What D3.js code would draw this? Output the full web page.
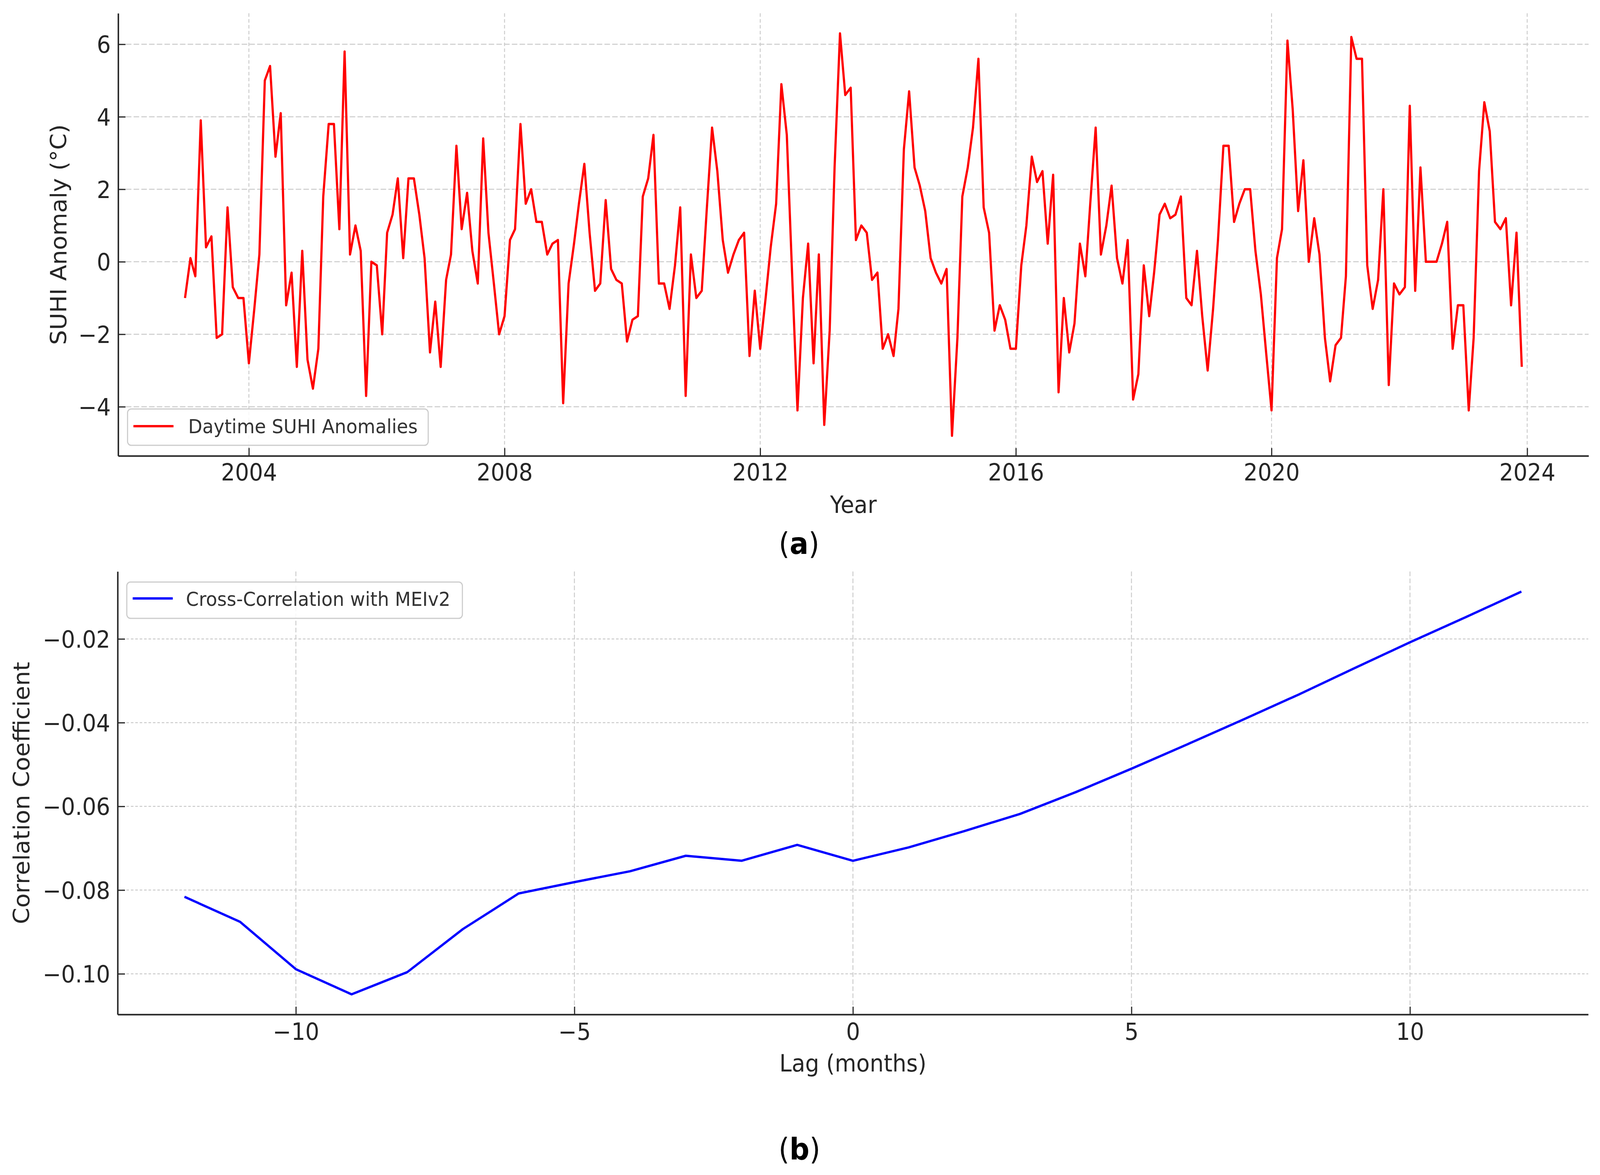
<!DOCTYPE html>
<html>
<head>
<meta charset="utf-8">
<script src="https://cdn.jsdelivr.net/npm/d3@7"></script>
<style>
  html, body { margin: 0; padding: 0; background: #ffffff; width: 100%; height: 100%; overflow: hidden; }
  svg { display: block; width: 100vw; height: 100vh; }
  text { font-family: "DejaVu Sans", "Noto Sans", sans-serif; }
</style>
</head>
<body>
<script>
// ---------------- DATA ----------------
const startYear = 2003; // monthly series, Jan 2003 .. Dec 2023
const suhiAnomaly = [
  // 2003
  -1.0, 0.1, -0.4, 3.9, 0.4, 0.7, -2.1, -2.0, 1.5, -0.7, -1.0, -1.0,
  // 2004
  -2.8, -1.3, 0.2, 5.0, 5.4, 2.9, 4.1, -1.2, -0.3, -2.9, 0.3, -2.7,
  // 2005
  -3.5, -2.4, 1.8, 3.8, 3.8, 0.9, 5.8, 0.2, 1.0, 0.3, -3.7, 0.0,
  // 2006
  -0.1, -2.0, 0.8, 1.3, 2.3, 0.1, 2.3, 2.3, 1.3, 0.1, -2.5, -1.1,
  // 2007
  -2.9, -0.5, 0.2, 3.2, 0.9, 1.9, 0.3, -0.6, 3.4, 0.8, -0.6, -2.0,
  // 2008
  -1.5, 0.6, 0.9, 3.8, 1.6, 2.0, 1.1, 1.1, 0.2, 0.5, 0.6, -3.9,
  // 2009
  -0.6, 0.5, 1.6, 2.7, 0.8, -0.8, -0.6, 1.7, -0.2, -0.5, -0.6, -2.2,
  // 2010
  -1.6, -1.5, 1.8, 2.3, 3.5, -0.6, -0.6, -1.3, -0.1, 1.5, -3.7, 0.2,
  // 2011
  -1.0, -0.8, 1.4, 3.7, 2.5, 0.6, -0.3, 0.2, 0.6, 0.8, -2.6, -0.8,
  // 2012
  -2.4, -1.0, 0.4, 1.6, 4.9, 3.5, -0.3, -4.1, -1.0, 0.5, -2.8, 0.2,
  // 2013
  -4.5, -1.9, 2.6, 6.3, 4.6, 4.8, 0.6, 1.0, 0.8, -0.5, -0.3, -2.4,
  // 2014
  -2.0, -2.6, -1.3, 3.1, 4.7, 2.6, 2.1, 1.4, 0.1, -0.3, -0.6, -0.2,
  // 2015
  -4.8, -2.1, 1.8, 2.6, 3.7, 5.6, 1.5, 0.8, -1.9, -1.2, -1.6, -2.4,
  // 2016
  -2.4, -0.1, 1.0, 2.9, 2.2, 2.5, 0.5, 2.4, -3.6, -1.0, -2.5, -1.7,
  // 2017
  0.5, -0.4, 1.6, 3.7, 0.2, 1.0, 2.1, 0.1, -0.6, 0.6, -3.8, -3.1,
  // 2018
  -0.1, -1.5, -0.3, 1.3, 1.6, 1.2, 1.3, 1.8, -1.0, -1.2, 0.3, -1.5,
  // 2019
  -3.0, -1.3, 0.6, 3.2, 3.2, 1.1, 1.6, 2.0, 2.0, 0.3, -0.9, -2.5,
  // 2020
  -4.1, 0.1, 0.9, 6.1, 4.2, 1.4, 2.8, 0.0, 1.2, 0.2, -2.1, -3.3,
  // 2021
  -2.3, -2.1, -0.4, 6.2, 5.6, 5.6, -0.1, -1.3, -0.5, 2.0, -3.4, -0.6,
  // 2022
  -0.9, -0.7, 4.3, -0.8, 2.6, 0.0, 0.0, 0.0, 0.5, 1.1, -2.4, -1.2,
  // 2023
  -1.2, -4.1, -2.1, 2.5, 4.4, 3.6, 1.1, 0.9, 1.2, -1.2, 0.8, -2.9
];
const lags = [-12, -11, -10, -9, -8, -7, -6, -5, -4, -3, -2, -1, 0, 1, 2, 3, 4, 5, 6, 7, 8, 9, 10, 11, 12];
const crossCorr = [-0.0816, -0.0876, -0.0989, -0.1049, -0.0996, -0.0893, -0.0808, -0.0781, -0.0755, -0.0718, -0.0730, -0.0692,
                   -0.0730, -0.0698, -0.0659, -0.0618, -0.0566, -0.0510, -0.0452, -0.0393, -0.0333, -0.0270, -0.0208, -0.0148, -0.0087];
const yearTicks = [2004, 2008, 2012, 2016, 2020, 2024];
const suhiTicks = [-4, -2, 0, 2, 4, 6];
const lagTicks = [-10, -5, 0, 5, 10];
const corrTicks = [-0.10, -0.08, -0.06, -0.04, -0.02];
const labels = {
  topY: "SUHI Anomaly (°C)", topX: "Year", topLegend: "Daytime SUHI Anomalies",
  botY: "Correlation Coefficient", botX: "Lag (months)", botLegend: "Cross-Correlation with MEIv2"
};

// ---------------- SETUP ----------------
const W = 4353, H = 3008;
const svg = d3.select("body").append("svg")
  .attr("viewBox", `0 0 ${W} ${H}`).attr("preserveAspectRatio", "none");
svg.append("rect").attr("width", W).attr("height", H).attr("fill", "#ffffff");

const TICK_FS = 60, LABEL_FS = 60, LEG_FS = 50;
const TEXT_COL = "#262626";
const SPINE_COL = "#262626";

function padExtent(lo, hi, f = 0.05) { const d = (hi - lo) * f; return [lo - d, hi + d]; }

// ---------------- PANEL A ----------------
const A = { left: 321.5, right: 4322, top: 34, bottom: 1167 };
const suhiPts = suhiAnomaly.map((v, i) => ({ date: new Date(Date.UTC(startYear, i, 1)), v }));
const tExt = d3.extent(suhiPts, d => d.date.getTime());
const tPad = padExtent(tExt[0], tExt[1]);
const xA = d3.scaleUtc().domain([new Date(tPad[0]), new Date(tPad[1])]).range([A.left, A.right]);
const vExt = d3.extent(suhiAnomaly);
const yA = d3.scaleLinear().domain(padExtent(vExt[0], vExt[1])).range([A.bottom, A.top]);

const gA = svg.append("g");
const yearDates = yearTicks.map(y => new Date(Date.UTC(y, 0, 1)));
gA.append("g").selectAll("line").data(suhiTicks).join("line")
  .attr("x1", A.left).attr("x2", A.right)
  .attr("y1", d => yA(d)).attr("y2", d => yA(d))
  .attr("stroke", "#cbcbcb").attr("stroke-width", 2.5).attr("stroke-dasharray", "15,6");
gA.append("g").selectAll("line").data(yearDates).join("line")
  .attr("x1", d => xA(d)).attr("x2", d => xA(d))
  .attr("y1", A.top).attr("y2", A.bottom)
  .attr("stroke", "#cbcbcb").attr("stroke-width", 2.5).attr("stroke-dasharray", "9,6");

gA.append("path").datum(suhiPts)
  .attr("fill", "none").attr("stroke", "#ff0000").attr("stroke-width", 6)
  .attr("stroke-linejoin", "round").attr("stroke-linecap", "butt")
  .attr("d", d3.line().x(d => xA(d.date)).y(d => yA(d.v)));

function styleAxis(g) {
  g.selectAll(".domain").attr("stroke", SPINE_COL).attr("stroke-width", 4);
  g.selectAll(".tick line").attr("stroke", SPINE_COL).attr("stroke-width", 3);
  g.selectAll(".tick text").attr("fill", TEXT_COL).attr("font-size", TICK_FS)
    .attr("font-family", "DejaVu Sans");
}
const axA_x = gA.append("g").attr("transform", `translate(0,${A.bottom})`)
  .call(d3.axisBottom(xA).tickValues(yearDates).tickFormat(d3.utcFormat("%Y"))
    .tickSizeInner(-20).tickSizeOuter(0).tickPadding(20));
styleAxis(axA_x);
const axA_y = gA.append("g").attr("transform", `translate(${A.left},0)`)
  .call(d3.axisLeft(yA).tickValues(suhiTicks).tickFormat(d3.format("d"))
    .tickSizeInner(-20).tickSizeOuter(0).tickPadding(20));
styleAxis(axA_y);
axA_y.selectAll(".tick text").attr("dy", "0.36em");

gA.append("text").attr("x", (A.left + A.right) / 2).attr("y", 1313)
  .attr("text-anchor", "middle").attr("font-size", LABEL_FS).attr("fill", TEXT_COL)
  .text(labels.topX);
gA.append("text").attr("transform", `translate(181,${(A.top + A.bottom) / 2}) rotate(-90)`)
  .attr("text-anchor", "middle").attr("font-size", LABEL_FS).attr("fill", TEXT_COL)
  .text(labels.topY);

function legend(g, box, lineY, color, textX, textY, txt) {
  g.append("rect").attr("x", box.x).attr("y", box.y).attr("width", box.w).attr("height", box.h)
    .attr("rx", 10).attr("ry", 10)
    .attr("fill", "#ffffff").attr("fill-opacity", 0.85)
    .attr("stroke", "#cccccc").attr("stroke-width", 3);
  g.append("line").attr("x1", box.x + 16).attr("x2", box.x + 125)
    .attr("y1", lineY).attr("y2", lineY)
    .attr("stroke", color).attr("stroke-width", 6);
  g.append("text").attr("x", textX).attr("y", textY)
    .attr("font-size", LEG_FS).attr("fill", "#333333").text(txt);
}
legend(gA, { x: 347, y: 1047, w: 818, h: 93 }, 1091, "#ff0000", 512, 1109, labels.topLegend);

function caption(x, y, letter) {
  const t = svg.append("text").attr("x", x).attr("y", y).attr("text-anchor", "middle")
    .attr("font-family", "Liberation Serif, Times New Roman, serif")
    .attr("font-size", 76).attr("fill", "#000000");
  t.append("tspan").text("(");
  t.append("tspan").attr("font-weight", "bold").text(letter);
  t.append("tspan").text(")");
}
caption(2174, 1418, "a");

// ---------------- PANEL B ----------------
const B = { left: 320, right: 4321, top: 1463, bottom: 2597 };
const lExt = d3.extent(lags);
const xB = d3.scaleLinear().domain(padExtent(lExt[0], lExt[1])).range([B.left, B.right]);
const cExt = d3.extent(crossCorr);
const yB = d3.scaleLinear().domain(padExtent(cExt[0], cExt[1])).range([B.bottom, B.top]);

const gB = svg.append("g");
gB.append("g").selectAll("line").data(corrTicks).join("line")
  .attr("x1", B.left).attr("x2", B.right)
  .attr("y1", d => yB(d)).attr("y2", d => yB(d))
  .attr("stroke", "#cbcbcb").attr("stroke-width", 2.5).attr("stroke-dasharray", "7,5");
gB.append("g").selectAll("line").data(lagTicks).join("line")
  .attr("x1", d => xB(d)).attr("x2", d => xB(d))
  .attr("y1", B.top).attr("y2", B.bottom)
  .attr("stroke", "#cbcbcb").attr("stroke-width", 2.5).attr("stroke-dasharray", "12,6");

const corrPts = lags.map((l, i) => ({ l, v: crossCorr[i] }));
gB.append("path").datum(corrPts)
  .attr("fill", "none").attr("stroke", "#0000ff").attr("stroke-width", 6)
  .attr("stroke-linejoin", "round")
  .attr("d", d3.line().x(d => xB(d.l)).y(d => yB(d.v)));

const axB_x = gB.append("g").attr("transform", `translate(0,${B.bottom})`)
  .call(d3.axisBottom(xB).tickValues(lagTicks).tickFormat(d3.format("d"))
    .tickSizeInner(-20).tickSizeOuter(0).tickPadding(22));
styleAxis(axB_x);
const axB_y = gB.append("g").attr("transform", `translate(${B.left},0)`)
  .call(d3.axisLeft(yB).tickValues(corrTicks).tickFormat(d3.format(".2f"))
    .tickSizeInner(-20).tickSizeOuter(0).tickPadding(20));
styleAxis(axB_y);
axB_y.selectAll(".tick text").attr("dy", "0.36em");

gB.append("text").attr("x", (B.left + B.right) / 2).attr("y", 2743)
  .attr("text-anchor", "middle").attr("font-size", LABEL_FS).attr("fill", TEXT_COL)
  .text(labels.botX);
gB.append("text").attr("transform", `translate(80,${(B.top + B.bottom) / 2}) rotate(-90)`)
  .attr("text-anchor", "middle").attr("font-size", LABEL_FS).attr("fill", TEXT_COL)
  .text(labels.botY);

legend(gB, { x: 345, y: 1490, w: 913, h: 93 }, 1532, "#0000ff", 506, 1551, labels.botLegend);

caption(2175, 2968, "b");
</script>
</body>
</html>
